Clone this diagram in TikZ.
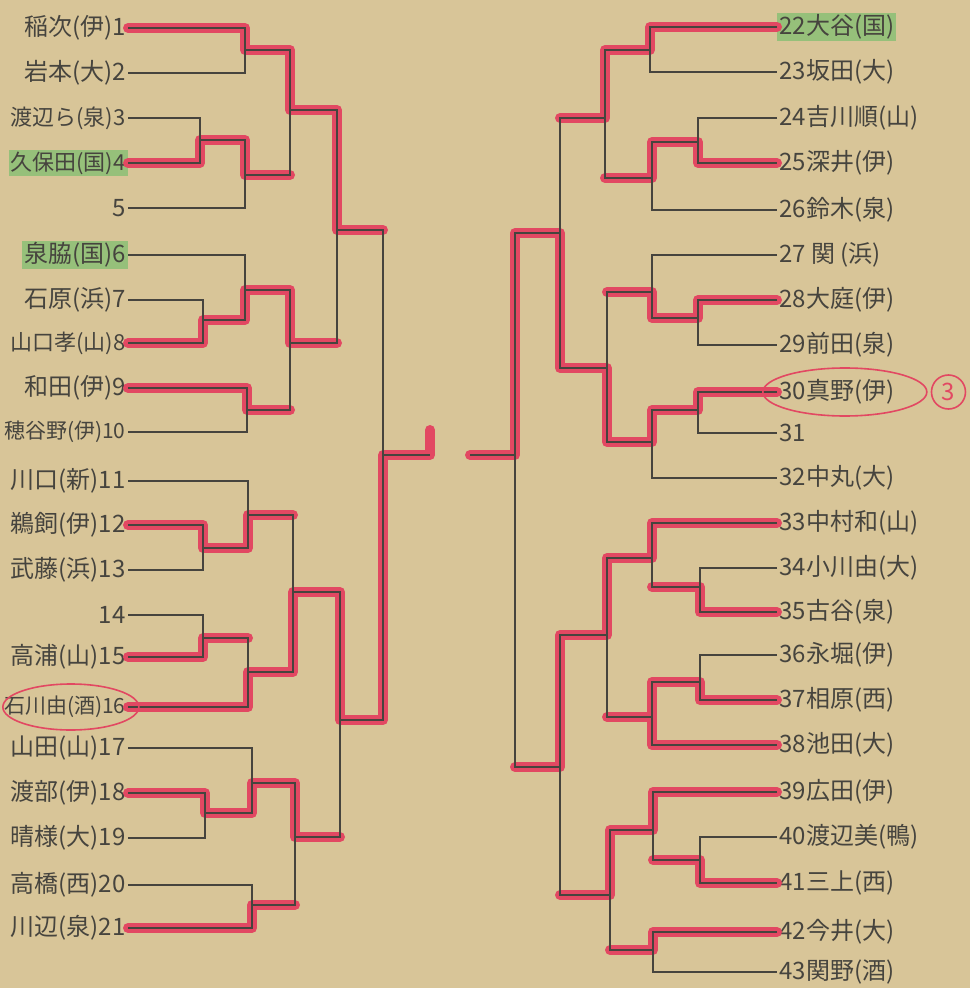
\documentclass[tikz,border=0pt]{standalone}
\usepackage{fontspec}
\setmainfont{Noto Sans CJK JP}
\usepackage{xcolor}
\usepackage{tikz}
\usetikzlibrary{positioning}

\definecolor{paper}{RGB}{216,197,152}
\definecolor{ink}{RGB}{70,68,62}
\definecolor{marker}{RGB}{226,72,98}
\definecolor{seedgreen}{RGB}{150,192,122}

\begin{document}
\begin{tikzpicture}[
  x=0.5pt, y=-0.5pt,
  pen/.style={draw=ink, line width=0.6pt},
  hilite/.style={draw=marker, line width=5pt, line cap=round, line join=round},
  lname/.style={anchor=east, text=ink, inner sep=1pt, font=\fontsize{12}{12}\selectfont},
  tight/.style={font=\fontsize{11}{11}\selectfont},
  rname/.style={anchor=west, text=ink, inner sep=1pt, font=\fontsize{12}{12}\selectfont},
  seedbox/.style={fill=seedgreen},
  ring/.style={draw=marker, line width=0.8pt}
]
\useasboundingbox (0,0) rectangle (970,988);
\fill[paper] (0,0) rectangle (970,988);

% -- left entries
\node[lname] (L1)  at (128,28)  {稲次(伊)1};
\node[lname] (L2)  at (128,73)  {岩本(大)2};
\node[lname, tight] (L3)  at (128,118) {渡辺ら(泉)3};
\node[lname, tight, seedbox] (L4) at (128,163) {久保田(国)4};
\node[lname] (L5)  at (128,208) {5};
\node[lname, seedbox] (L6) at (128,255) {泉脇(国)6};
\node[lname] (L7)  at (128,300) {石原(浜)7};
\node[lname, tight] (L8)  at (128,343) {山口孝(山)8};
\node[lname] (L9)  at (128,388) {和田(伊)9};
\node[lname, tight, font=\fontsize{10.5}{11}\selectfont] (L10) at (128,432) {穂谷野(伊)10};
\node[lname] (L11) at (128,481) {川口(新)11};
\node[lname] (L12) at (128,525) {鵜飼(伊)12};
\node[lname] (L13) at (128,570) {武藤(浜)13};
\node[lname] (L14) at (128,615) {14};
\node[lname] (L15) at (128,657) {高浦(山)15};
\node[lname, font=\fontsize{10.5}{11}\selectfont] (L16) at (128,707) {石川由(酒)16};
\node[lname] (L17) at (128,748) {山田(山)17};
\node[lname] (L18) at (128,793) {渡部(伊)18};
\node[lname] (L19) at (128,838) {晴様(大)19};
\node[lname] (L20) at (128,885) {高橋(西)20};
\node[lname] (L21) at (128,928) {川辺(泉)21};

% -- right entries
\node[rname, seedbox] (R22) at (777,27) {22大谷(国)};
\node[rname] (R23) at (777,72)  {23坂田(大)};
\node[rname] (R24) at (777,118) {24吉川順(山)};
\node[rname] (R25) at (777,163) {25深井(伊)};
\node[rname] (R26) at (777,210) {26鈴木(泉)};
\node[rname] (R27) at (777,255) {27 関 (浜)};
\node[rname] (R28) at (777,300) {28大庭(伊)};
\node[rname] (R29) at (777,345) {29前田(泉)};
\node[rname] (R30) at (777,392) {30真野(伊)};
\node[rname] (R31) at (777,433) {31};
\node[rname] (R32) at (777,478) {32中丸(大)};
\node[rname] (R33) at (777,523) {33中村和(山)};
\node[rname] (R34) at (777,568) {34小川由(大)};
\node[rname] (R35) at (777,612) {35古谷(泉)};
\node[rname] (R36) at (777,655) {36永堀(伊)};
\node[rname] (R37) at (777,700) {37相原(西)};
\node[rname] (R38) at (777,745) {38池田(大)};
\node[rname] (R39) at (777,792) {39広田(伊)};
\node[rname] (R40) at (777,837) {40渡辺美(鴨)};
\node[rname] (R41) at (777,883) {41三上(西)};
\node[rname] (R42) at (777,932) {42今井(大)};
\node[rname] (R43) at (777,972) {43関野(酒)};

% -- left junctions
\coordinate (J12)   at (245,50);
\coordinate (J34)   at (200,140);
\coordinate (J35)   at (245,175);
\coordinate (J15)   at (290,110);
\coordinate (J78)   at (203,320);
\coordinate (J68)   at (245,290);
\coordinate (J910)  at (247,410);
\coordinate (J610)  at (290,343);
\coordinate (J110)  at (337,230);
\coordinate (J1213) at (203,548);
\coordinate (J1113) at (248,515);
\coordinate (J1415) at (203,638);
\coordinate (J1416) at (248,672);
\coordinate (J1116) at (293,592);
\coordinate (J1819) at (205,813);
\coordinate (J1719) at (252,783);
\coordinate (J2021) at (252,905);
\coordinate (J1721) at (295,837);
\coordinate (J1121) at (340,720);
\coordinate (JL)    at (383,455);
\coordinate (Lend)  at (430,455);
\coordinate (Lhook) at (430,430);

% -- right junctions
\coordinate (J2223) at (650,50);
\coordinate (J2425) at (698,142);
\coordinate (J2426) at (652,178);
\coordinate (J2226) at (605,118);
\coordinate (J2829) at (698,318);
\coordinate (J2729) at (652,292);
\coordinate (J3031) at (698,410);
\coordinate (J3032) at (652,442);
\coordinate (J2732) at (607,368);
\coordinate (J2232) at (560,233);
\coordinate (J3435) at (700,587);
\coordinate (J3335) at (652,558);
\coordinate (J3637) at (700,682);
\coordinate (J3638) at (652,717);
\coordinate (J3338) at (607,635);
\coordinate (J4041) at (700,860);
\coordinate (J3941) at (653,830);
\coordinate (J4243) at (653,950);
\coordinate (J3943) at (610,895);
\coordinate (J3343) at (560,767);
\coordinate (JR)    at (515,455);
\coordinate (Rend)  at (470,455);

% -- marker pen over the bracket
\draw[hilite] (L1.east) -| (J12) -| (J15) -| (J110) -- (J110 -| JL);
\draw[hilite] (L4.east) -| (J34) -| (J35) -- (J35 -| J15);
\draw[hilite] (L8.east) -| (J78) -| (J68) -| (J610) -- (J610 -| J110);
\draw[hilite] (L9.east) -| (J910) -- (J910 -| J610);
\draw[hilite] (L12.east) -| (J1213) -| (J1113) -- (J1113 -| J1116);
\draw[hilite] (L15.east) -| (J1415) -- (J1415 -| J1416);
\draw[hilite] (L16.east) -| (J1416) -| (J1116) -| (J1121) -| (JL) -- (Lend) -- (Lhook);
\draw[hilite] (L18.east) -| (J1819) -| (J1719) -| (J1721) -- (J1721 -| J1121);
\draw[hilite] (L21.east) -| (J2021) -- (J2021 -| J1721);

\draw[hilite] (R22.west) -| (J2223) -| (J2226) -- (J2226 -| J2232);
\draw[hilite] (R25.west) -| (J2425) -| (J2426) -- (J2426 -| J2226);
\draw[hilite] (R28.west) -| (J2829) -| (J2729) -- (J2729 -| J2732);
\draw[hilite] (R30.west) -| (J3031) -| (J3032) -| (J2732) -| (J2232) -| (JR) -- (Rend);
\draw[hilite] (R33.west) -| (J3335) -| (J3338) -| (J3343) -- (J3343 -| JR);
\draw[hilite] (R35.west) -| (J3435) -- (J3435 -| J3335);
\draw[hilite] (R37.west) -| (J3637) -| (J3638);
\draw[hilite] (R38.west) -| (J3638) -- (J3638 -| J3338);
\draw[hilite] (R39.west) -| (J3941) -| (J3943) -- (J3943 -| J3343);
\draw[hilite] (R41.west) -| (J4041) -- (J4041 -| J3941);
\draw[hilite] (R42.west) -| (J4243) -- (J4243 -| J3943);

% -- left bracket
\draw[pen] (L1.east) -| (J12) |- (L2.east);
\draw[pen] (L3.east) -| (J34) |- (L4.east);
\draw[pen] (J34) -| (J35) |- (L5.east);
\draw[pen] (J12) -| (J15) |- (J35);
\draw[pen] (L7.east) -| (J78) |- (L8.east);
\draw[pen] (L6.east) -| (J68) |- (J78);
\draw[pen] (L9.east) -| (J910) |- (L10.east);
\draw[pen] (J68) -| (J610) |- (J910);
\draw[pen] (J15) -| (J110) |- (J610);
\draw[pen] (L12.east) -| (J1213) |- (L13.east);
\draw[pen] (L11.east) -| (J1113) |- (J1213);
\draw[pen] (L14.east) -| (J1415) |- (L15.east);
\draw[pen] (J1415) -| (J1416) |- (L16.east);
\draw[pen] (J1113) -| (J1116) |- (J1416);
\draw[pen] (L18.east) -| (J1819) |- (L19.east);
\draw[pen] (L17.east) -| (J1719) |- (J1819);
\draw[pen] (L20.east) -| (J2021) |- (L21.east);
\draw[pen] (J1719) -| (J1721) |- (J2021);
\draw[pen] (J1116) -| (J1121) |- (J1721);
\draw[pen] (J110) -| (JL) |- (J1121);
\draw[pen] (JL) -- (Lend);

% -- right bracket
\draw[pen] (R22.west) -| (J2223) |- (R23.west);
\draw[pen] (R24.west) -| (J2425) |- (R25.west);
\draw[pen] (J2425) -| (J2426) |- (R26.west);
\draw[pen] (J2223) -| (J2226) |- (J2426);
\draw[pen] (R28.west) -| (J2829) |- (R29.west);
\draw[pen] (R27.west) -| (J2729) |- (J2829);
\draw[pen] (R30.west) -| (J3031) |- (R31.west);
\draw[pen] (J3031) -| (J3032) |- (R32.west);
\draw[pen] (J2729) -| (J2732) |- (J3032);
\draw[pen] (J2226) -| (J2232) |- (J2732);
\draw[pen] (R34.west) -| (J3435) |- (R35.west);
\draw[pen] (R33.west) -| (J3335) |- (J3435);
\draw[pen] (R36.west) -| (J3637) |- (R37.west);
\draw[pen] (J3637) -| (J3638) |- (R38.west);
\draw[pen] (J3335) -| (J3338) |- (J3638);
\draw[pen] (R40.west) -| (J4041) |- (R41.west);
\draw[pen] (R39.west) -| (J3941) |- (J4041);
\draw[pen] (R42.west) -| (J4243) |- (R43.west);
\draw[pen] (J3941) -| (J3943) |- (J4243);
\draw[pen] (J3338) -| (J3343) |- (J3943);
\draw[pen] (J2232) -| (JR) |- (J3343);
\draw[pen] (JR) -- (Rend);

% -- red rings
\draw[ring] ([xshift=3pt]L16.center) ellipse [x radius=34pt, y radius=11.5pt];
\draw[ring] ([xshift=4pt]R30.center) ellipse [x radius=41pt, y radius=12pt];
\node[ring, circle, inner sep=0pt, minimum size=17pt, text=marker, font=\fontsize{12}{12}\selectfont,
      right=17pt of R30.east] (R30mark) {3};
\end{tikzpicture}
\end{document}
